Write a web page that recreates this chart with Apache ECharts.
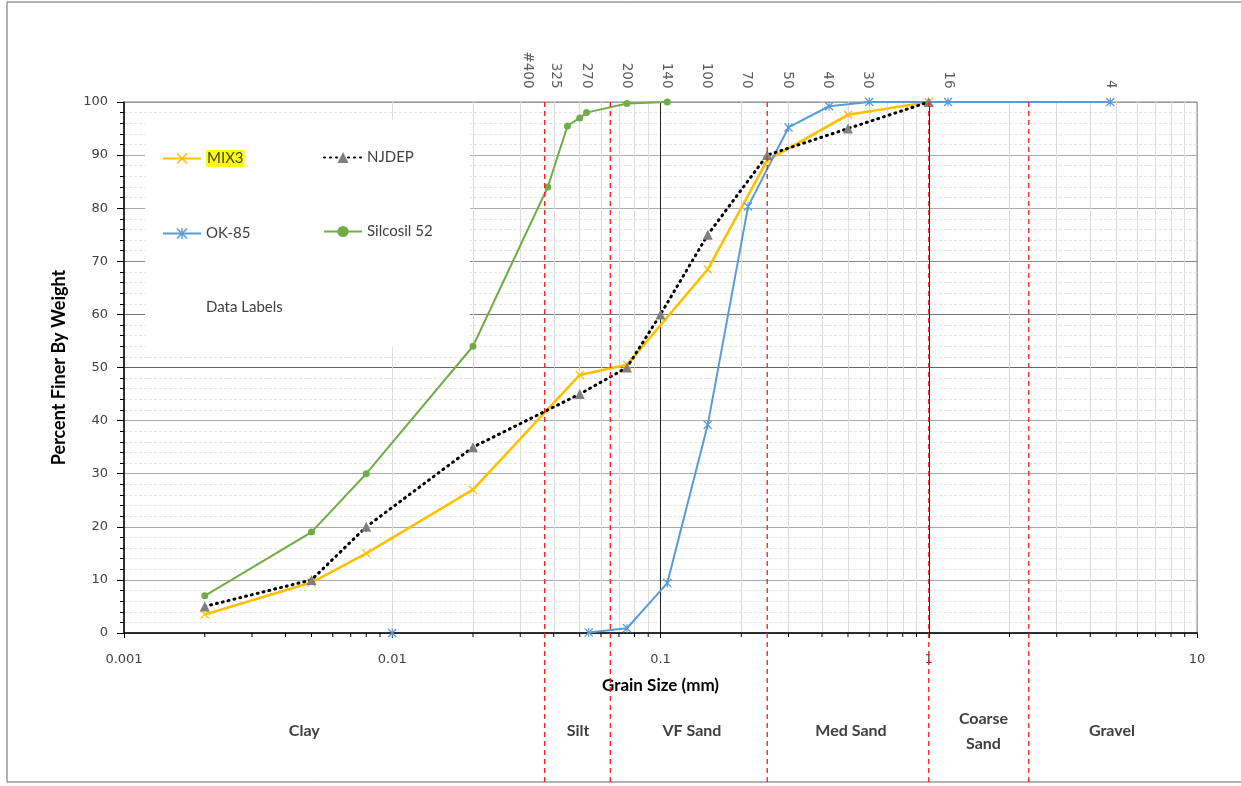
<!DOCTYPE html>
<html><head><meta charset="utf-8">
<script src="https://cdn.jsdelivr.net/npm/echarts@6/dist/echarts.min.js"></script>
<style>html,body{margin:0;padding:0;background:#fff}#c{width:1241px;height:786px}</style>
</head><body><div id="c"></div>
<script>
// ---- data ----
const xTickLabels = ['0.001', '0.01', '0.1', '1', '10'];
const mix3X = [0.002, 0.005, 0.008, 0.02, 0.05, 0.075, 0.15, 0.25, 0.5, 1];
const mix3Y = [3.5, 9.5, 15, 27, 48.6, 50.5, 68.5, 89, 97.6, 100];
const njdepX = [0.002, 0.005, 0.008, 0.02, 0.05, 0.075, 0.1, 0.15, 0.25, 0.5, 1];
const njdepY = [5, 10, 20, 35, 45, 50, 60, 75, 90, 95, 100];
const ok85X = [0.01, null, 0.054, 0.075, 0.106, 0.15, 0.212, 0.3, 0.425, 0.6, 1.18, 4.75];
const ok85Y = [0, null, 0.1, 0.9, 9.4, 39.2, 80.3, 95.2, 99.2, 100, 100, 100];
const silX = [0.002, 0.005, 0.008, 0.02, 0.038, 0.045, 0.05, 0.053, 0.075, 0.106];
const silY = [7, 19, 30, 54, 84, 95.5, 97, 98, 99.7, 100];
const sieveNames = ['#400', '325', '270', '200', '140', '100', '70', '50', '40', '30', '16', '4'];
const sieveSizes = [0.032, 0.0405, 0.053, 0.075, 0.105, 0.149, 0.21, 0.297, 0.42, 0.59, 1.18, 4.75];
const classBounds = [0.037, 0.065, 0.25, 1, 2.36];
const classNames = ['Clay', 'Silt', 'VF Sand', 'Med Sand', 'Coarse\nSand', 'Gravel'];
const classLabelX = [0.0047, 0.0493, 0.131, 0.513, 1.6, 4.82];

const pairs = (xs, ys) => xs.map((x, i) => (x == null ? ['-', '-'] : [x, ys[i]]));
const xMark = 'path://M0,1L1,0L5,4L9,0L10,1L6,5L10,9L9,10L5,6L1,10L0,9L4,5Z';
const starMark = 'path://M0,1L1,0L5,4L9,0L10,1L6,5L10,9L9,10L5,6L1,10L0,9L4,5Z M4.4,0L5.6,0L5.6,10L4.4,10Z';

const minorX = [];
for (let k = -3; k < 1; k++) for (let m = 2; m <= 9; m++) minorX.push(+(m * Math.pow(10, k)).toPrecision(3));

const chart = echarts.init(document.getElementById('c'), null, { renderer: 'canvas' });
const txt = '#404040';
const option = {
  backgroundColor: '#fff',
  animation: false,
  grid: { left: 124, right: 44, top: 102, bottom: 153, show: true, borderColor: '#8a8a8a', borderWidth: 1 },
  legend: [
    { left: 157, top: 145, orient: 'vertical', itemGap: 59, itemWidth: 38, itemHeight: 14,
      textStyle: { fontFamily: 'Lato', fontSize: 15, color: txt },
      data: [{ name: 'MIX3', textStyle: { backgroundColor: '#FFFF00', padding: [1, 1] } }, 'OK-85', 'Data Labels'] },
    { left: 318, top: 145, orient: 'vertical', itemGap: 59, itemWidth: 38, itemHeight: 14,
      textStyle: { fontFamily: 'Lato', fontSize: 15, color: txt },
      data: ['NJDEP', 'Silcosil 52'] }
  ],
  xAxis: {
    type: 'log', logBase: 10, min: 0.001, max: 10,
    name: 'Grain Size (mm)', nameLocation: 'middle', nameGap: 44,
    nameTextStyle: { fontFamily: 'Lato', fontWeight: 'bold', fontSize: 17, color: '#000', verticalAlign: 'top' },
    axisLine: { onZero: false, lineStyle: { color: '#000', width: 1.5 } },
    axisTick: { show: true, length: 5, inside: false, lineStyle: { color: '#000' } },
    axisLabel: { margin: 20, fontFamily: 'DejaVu Sans', fontSize: 13, color: txt,
      formatter: (v, i) => xTickLabels[i] },
    splitLine: { show: true, lineStyle: { color: ['#aaaaaa', '#aaaaaa', '#222222', '#222222', '#aaaaaa'], width: 1 } }
  },
  yAxis: {
    type: 'value', min: 0, max: 100, interval: 10,
    name: 'Percent Finer By Weight', nameLocation: 'middle', nameGap: 56,
    nameTextStyle: { fontFamily: 'Lato', fontWeight: 'bold', fontSize: 18, color: '#000' },
    axisLine: { show: true, lineStyle: { color: '#000', width: 1.5 } },
    axisTick: { show: true, length: 7, lineStyle: { color: '#000' } },
    minorTick: { show: true, splitNumber: 5, length: 4, lineStyle: { color: '#000' } },
    axisLabel: { margin: 16, fontFamily: 'DejaVu Sans', fontSize: 13, color: txt },
    splitLine: { show: true, lineStyle: { color: ['#999', '#aaa', '#aaa', '#aaa', '#aaa', '#666', '#777', '#888', '#aaa', '#aaa', '#999'] } },
    minorSplitLine: { show: true, lineStyle: { color: '#e4e4e4', type: [3, 2] } }
  },
  series: [
    { name: 'minor', type: 'line', data: [], z: 0, silent: true, legendHoverLink: false,
      markLine: { z: 0, silent: true, symbol: 'none', label: { show: false },
        lineStyle: { color: '#dcdcdc', type: 'solid', width: 1 },
        data: minorX.map(v => ({ xAxis: v })) } },
    { name: 'MIX3', type: 'line', data: pairs(mix3X, mix3Y), z: 3,
      symbol: xMark, symbolSize: 9, itemStyle: { color: '#FFC000' },
      lineStyle: { color: '#FFC000', width: 2.6 } },
    { name: 'NJDEP', type: 'line', data: pairs(njdepX, njdepY), z: 4,
      symbol: 'triangle', symbolSize: 10, itemStyle: { color: '#7f7f7f' },
      lineStyle: { color: '#000', width: 3, type: [1, 5], cap: 'round' } },
    { name: 'OK-85', type: 'line', data: pairs(ok85X, ok85Y), z: 3, connectNulls: false,
      symbol: starMark, symbolSize: 9, itemStyle: { color: '#5B9BD5' },
      lineStyle: { color: '#5B9BD5', width: 2 } },
    { name: 'Silcosil 52', type: 'line', data: pairs(silX, silY), z: 3,
      symbol: 'circle', symbolSize: 7, itemStyle: { color: '#70AD47' },
      lineStyle: { color: '#70AD47', width: 2 } },
    { name: 'Data Labels', type: 'scatter', z: 3, symbolSize: 1,
      itemStyle: { color: 'rgba(0,0,0,0)' },
      data: sieveSizes.map(v => [v, 100]),
      label: { show: true, position: 'top', distance: 13, rotate: -90, align: 'right', verticalAlign: 'middle',
        fontFamily: 'DejaVu Sans', fontSize: 13.5, color: '#333',
        formatter: p => sieveNames[p.dataIndex] } }
  ]
};
chart.setOption(option);

// ---- decorations positioned through the library's scales ----
const px = v => chart.convertToPixel({ gridIndex: 0 }, [v, 0])[0];
const yBottom = chart.convertToPixel({ gridIndex: 0 }, [1, 0])[1];
const yTop = chart.convertToPixel({ gridIndex: 0 }, [1, 100])[1];
const g = [];
g.push({ type: 'rect', id: 'frame', z: 0, silent: true, shape: { x: 7, y: 2, width: 1245, height: 780 },
  style: { fill: null, stroke: '#666', lineWidth: 1 } });
g.push({ type: 'rect', id: 'legendBox', z: 1, silent: true, shape: { x: 145, y: 120, width: 325, height: 227 },
  style: { fill: '#fff' } });
minorX.forEach((v, i) => g.push({ type: 'line', id: 'mt' + i, z: 3, silent: true,
  shape: { x1: px(v), y1: yBottom, x2: px(v), y2: yBottom + 4 }, style: { stroke: '#000', lineWidth: 1 } }));
classBounds.forEach((v, i) => g.push({ type: 'line', id: 'cb' + i, z: 5, silent: true,
  shape: { x1: px(v), y1: yTop, x2: px(v), y2: 782 },
  style: { stroke: '#ff1a1a', lineWidth: 1.3, lineDash: [5, 4] } }));
classNames.forEach((n, i) => g.push({ type: 'text', id: 'cn' + i, z: 5, silent: true,
  x: px(classLabelX[i]), y: 731,
  style: { text: n, fill: txt, font: 'bold 16px Lato', align: 'center', verticalAlign: 'middle', lineHeight: 25 } }));
chart.setOption({ graphic: g });
</script>
</body></html>
